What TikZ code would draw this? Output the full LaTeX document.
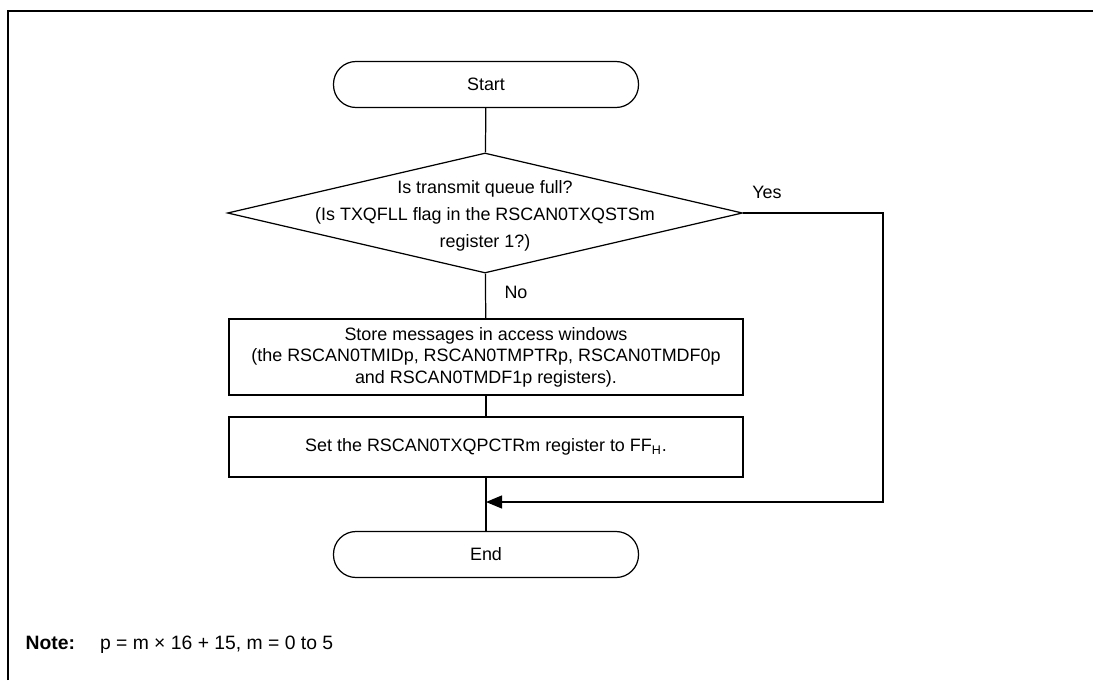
\documentclass[tikz,border=0pt]{standalone}
\usepackage{fontspec}
\setmainfont{Liberation Sans}
\usetikzlibrary{arrows.meta,positioning,calc,shapes.geometric}

\begin{document}
\begin{tikzpicture}[
  font=\fontsize{10.2}{12.2}\selectfont,
  line width=0.7pt,
  term/.style={draw, rounded corners=0.45cm, minimum width=6.1cm,
    minimum height=0.92cm, inner sep=0pt},
  decision/.style={draw, diamond, minimum width=10.3cm, minimum height=2.4cm,
    inner sep=0pt},
  proc/.style={draw, align=center, minimum width=10.28cm, inner sep=0pt},
  lbl/.style={inner sep=0pt},
  arr/.style={-{Triangle[length=0.32cm,width=0.26cm]}}
]
\useasboundingbox (0,0) rectangle (21.86,-13.6);
% outer frame (cut off at right and bottom)
\draw[line width=1.1pt] (0.16,-13.6) -- (0.16,-0.22) -- (21.86,-0.22);

\node[term] (start) at (9.72,-1.69) {Start};
\node[decision, label={[align=center, font=\fontsize{10.2}{15.4}\selectfont,
  yshift=-0.06cm]center:Is transmit queue full?\\(Is TXQFLL flag in the RSCAN0TXQSTSm\\register 1?)}]
  (full) at (9.70,-4.26) {};
\node[proc, minimum height=1.52cm] (store) at (9.72,-7.14)
  {Store messages in access windows\\(the RSCAN0TMIDp, RSCAN0TMPTRp, RSCAN0TMDF0p\\and RSCAN0TMDF1p registers).};
\node[proc, minimum height=1.2cm] (setq) at (9.72,-8.94)
  {Set the RSCAN0TXQPCTRm register to FF\textsubscript{H}.};
\node[term] (end) at (9.72,-11.09) {End};

\node[lbl] (yes) at (15.34,-3.84) {Yes};
\node[lbl] (no) at (10.32,-5.84) {No};

\coordinate (join) at (9.72,-10.04);
\coordinate (yesturn) at (17.66,-4.26);

\draw (start) -- (full);
\draw (full) -- (store);
\draw (store) -- (setq);
\draw (setq) -- (end);
\draw[arr] (full.east) -- (yesturn) |- (join);

\node[lbl, anchor=west, font=\fontsize{11}{13}\selectfont] (note) at (0.5,-12.9)
  {\textbf{Note:}\hspace{0.5cm}p = m × 16 + 15, m = 0 to 5};
\end{tikzpicture}
\end{document}
